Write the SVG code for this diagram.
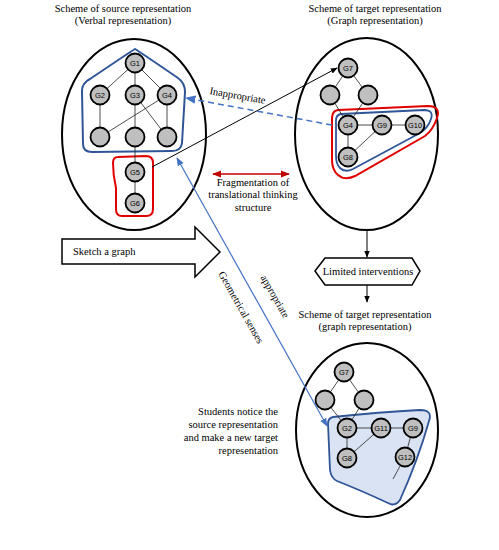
<svg xmlns="http://www.w3.org/2000/svg" width="499" height="550" viewBox="0 0 499 550">
<defs>
<style>
.t{font-family:"Liberation Serif","Times New Roman",serif;font-size:10.5px;fill:#000}
.n circle{fill:#bfbfbf;stroke:#000;stroke-width:1.8}
.n text{font-family:"Liberation Sans",Arial,sans-serif;font-size:7.5px;text-anchor:middle;fill:#000}
.e line{stroke:#222;stroke-width:0.8}
.ell{fill:none;stroke:#000;stroke-width:2}
</style>
<marker id="ab" viewBox="0 0 10 10" refX="9" refY="5" markerWidth="7" markerHeight="7" orient="auto-start-reverse"><path d="M0,1 L10,5 L0,9 Z" fill="#000"/></marker>
<marker id="abl" viewBox="0 0 10 10" refX="9" refY="5" markerWidth="7" markerHeight="7" orient="auto-start-reverse"><path d="M0,1 L10,5 L0,9 Z" fill="#4472c4"/></marker>
<marker id="ar" viewBox="0 0 10 10" refX="9" refY="5" markerWidth="6" markerHeight="6" orient="auto-start-reverse"><path d="M0,1 L10,5 L0,9 Z" fill="#c00000"/></marker>
</defs>
<rect width="499" height="550" fill="#fff"/>

<g id="titles">
<text class="t" x="123" y="12" text-anchor="middle">Scheme of source representation</text>
<text class="t" x="123" y="24" text-anchor="middle">(Verbal representation)</text>
<text class="t" x="375" y="12" text-anchor="middle">Scheme of target representation</text>
<text class="t" x="375" y="24" text-anchor="middle">(Graph representation)</text>
</g>

<g id="source">
<ellipse class="ell" cx="134" cy="134.5" rx="72" ry="95.5"/>
<path d="M135,49 Q140,52 178,78 Q185,83 185,92 L182,143 Q181,151 172,151 L92,152 Q83,152 83,144 L82,91 Q82,83 90,79 Q130,52 135,49 Z" fill="none" stroke="#2f5597" stroke-width="2"/>
<path d="M118,157 L146,156 Q153,156 153,163 L153,209 Q153,216 146,216 L122,216 Q116,216 116,209 L116,188 Q113,175 113,163 Q113,157 118,157 Z" fill="none" stroke="#e00000" stroke-width="2"/>
<g class="e">
<line x1="135" y1="63" x2="100" y2="95"/><line x1="135" y1="63" x2="135" y2="95"/><line x1="135" y1="63" x2="167" y2="95"/>
<line x1="100" y1="95" x2="100" y2="137"/><line x1="135" y1="95" x2="135" y2="137"/><line x1="167" y1="95" x2="167" y2="137"/>
<line x1="167" y1="95" x2="100" y2="137"/><line x1="135" y1="95" x2="167" y2="137"/>
<line x1="135" y1="137" x2="135" y2="172"/><line x1="135" y1="172" x2="135" y2="203"/>
</g>
<g class="n" id="sG1"><circle cx="135" cy="63" r="9.5"/><text x="135" y="65.7">G1</text></g>
<g class="n" id="sG2"><circle cx="100" cy="95" r="9.5"/><text x="100" y="97.7">G2</text></g>
<g class="n" id="sG3"><circle cx="135" cy="95" r="9.5"/><text x="135" y="97.7">G3</text></g>
<g class="n" id="sG4"><circle cx="167" cy="95" r="9.5"/><text x="167" y="97.7">G4</text></g>
<g class="n" id="sA"><circle cx="100" cy="137" r="9.5"/></g>
<g class="n" id="sB"><circle cx="135" cy="137" r="9.5"/></g>
<g class="n" id="sC"><circle cx="167" cy="137" r="9.5"/></g>
<g class="n" id="sG5"><circle cx="135" cy="172" r="9.5"/><text x="135" y="174.7">G5</text></g>
<g class="n" id="sG6"><circle cx="135" cy="203" r="9.5"/><text x="135" y="205.7">G6</text></g>
</g>

<g id="target">
<ellipse class="ell" cx="366.5" cy="134" rx="71.5" ry="96"/>
<path d="M338,110 L428,106 Q441,106 437,118 Q433,130 425,136 L355,176 Q345,181 338,175 Q332,170 332,160 L332,118 Q332,111 338,110 Z" fill="none" stroke="#e00000" stroke-width="2"/>
<path d="M341,114 L424,110 Q434,110 431,119 Q428,128 420,133 L353,169 Q345,173 340,168 Q336,164 336,156 L336,120 Q336,115 341,114 Z" fill="none" stroke="#2f5597" stroke-width="1.8"/>
<g class="e">
<line x1="348" y1="68" x2="330" y2="95"/><line x1="348" y1="68" x2="368" y2="95"/>
<line x1="330" y1="95" x2="348" y2="125"/><line x1="368" y1="95" x2="348" y2="125"/>
<line x1="348" y1="125" x2="415" y2="125"/><line x1="348" y1="125" x2="348" y2="157"/><line x1="348" y1="157" x2="382" y2="125"/>
</g>
<g class="n" id="tG7"><circle cx="348" cy="68" r="9.5"/><text x="348" y="70.7">G7</text></g>
<g class="n" id="tA"><circle cx="330" cy="95" r="9.5"/></g>
<g class="n" id="tB"><circle cx="368" cy="95" r="9.5"/></g>
<g class="n" id="tG4"><circle cx="348" cy="125" r="9.5"/><text x="348" y="127.7">G4</text></g>
<g class="n" id="tG9"><circle cx="382" cy="125" r="9.5"/><text x="382" y="127.7">G9</text></g>
<g class="n" id="tG10"><circle cx="415" cy="125" r="9.5"/><text x="415" y="127.7">G10</text></g>
<g class="n" id="tG8"><circle cx="348" cy="157" r="9.5"/><text x="348" y="159.7">G8</text></g>
</g>

<g id="new">
<ellipse class="ell" cx="367" cy="430" rx="71" ry="87"/>
<path d="M333,417 Q380,412 420,410 Q433,410 429,421 Q418,460 400,500 Q395,507 388,503 Q360,490 337,481 Q331,478 330,470 L328,424 Q328,418 333,417 Z" fill="#dae3f3" stroke="#2f5597" stroke-width="1.8"/>
<g class="e">
<line x1="344" y1="372" x2="325" y2="400"/><line x1="344" y1="372" x2="364" y2="400"/>
<line x1="325" y1="400" x2="347" y2="428"/><line x1="364" y1="400" x2="347" y2="428"/>
<line x1="347" y1="428" x2="413" y2="428"/><line x1="347" y1="428" x2="347" y2="458"/><line x1="347" y1="458" x2="381" y2="428"/>
<line x1="413" y1="428" x2="405" y2="457"/><line x1="405" y1="457" x2="393" y2="479"/>
</g>
<g class="n" id="nG7"><circle cx="344" cy="372" r="9.5"/><text x="344" y="374.7">G7</text></g>
<g class="n" id="nA"><circle cx="325" cy="400" r="9.5"/></g>
<g class="n" id="nB"><circle cx="364" cy="400" r="9.5"/></g>
<g class="n" id="nG2"><circle cx="347" cy="428" r="9.5"/><text x="347" y="430.7">G2</text></g>
<g class="n" id="nG11"><circle cx="381" cy="428" r="9.5"/><text x="381" y="430.7">G11</text></g>
<g class="n" id="nG9"><circle cx="413" cy="428" r="9.5"/><text x="413" y="430.7">G9</text></g>
<g class="n" id="nG8"><circle cx="347" cy="458" r="9.5"/><text x="347" y="460.7">G8</text></g>
<g class="n" id="nG12"><circle cx="405" cy="457" r="9.5"/><text x="405" y="459.7">G12</text></g>
</g>

<g id="sketch">
<polygon points="62,239 195,239 195,227 220,252 195,277 195,264 62,264" fill="#fff" stroke="#000" stroke-width="1.5"/>
<text class="t" x="73" y="255">Sketch a graph</text>
</g>

<g id="limited">
<polygon points="315,271 325,258 412,258 420,271 412,285 325,285" fill="#fff" stroke="#000" stroke-width="1.5"/>
<text class="t" x="368" y="275" text-anchor="middle">Limited interventions</text>
</g>

<g id="labels">
<text class="t" x="253" y="186" text-anchor="middle">Fragmentation of</text>
<text class="t" x="253" y="198" text-anchor="middle">translational thinking</text>
<text class="t" x="253" y="211" text-anchor="middle">structure</text>
<text class="t" x="365" y="318" text-anchor="middle">Scheme of target representation</text>
<text class="t" x="365" y="330" text-anchor="middle">(graph representation)</text>
<text class="t" x="278" y="415" text-anchor="end">Students notice the</text>
<text class="t" x="278" y="428" text-anchor="end">source representation</text>
<text class="t" x="278" y="441" text-anchor="end">and make a new target</text>
<text class="t" x="278" y="454" text-anchor="end">representation</text>
<text class="t" transform="translate(237,99) rotate(10)" text-anchor="middle">Inappropriate</text>
<text class="t" transform="translate(272,298) rotate(60.4)" text-anchor="middle">appropriate</text>
<text class="t" transform="translate(238,309) rotate(60.4)" text-anchor="middle">Geometrical senses</text>
</g>

<g id="connectors" fill="none">
<line x1="152" y1="167" x2="337" y2="68" stroke="#000" stroke-width="1" marker-end="url(#ab)"/>
<line x1="332" y1="125" x2="186" y2="98" stroke="#4472c4" stroke-width="1.5" stroke-dasharray="6,4" marker-end="url(#abl)"/>
<line x1="213" y1="174" x2="289" y2="174" stroke="#c00000" stroke-width="1.5" marker-start="url(#ar)" marker-end="url(#ar)"/>
<line x1="177" y1="158" x2="327" y2="426" stroke="#4472c4" stroke-width="1.2" marker-start="url(#abl)" marker-end="url(#abl)"/>
<line x1="367" y1="230" x2="367" y2="257" stroke="#000" stroke-width="1" marker-end="url(#ab)"/>
<line x1="367" y1="285" x2="367" y2="302" stroke="#000" stroke-width="1" marker-end="url(#ab)"/>
</g>
</svg>
